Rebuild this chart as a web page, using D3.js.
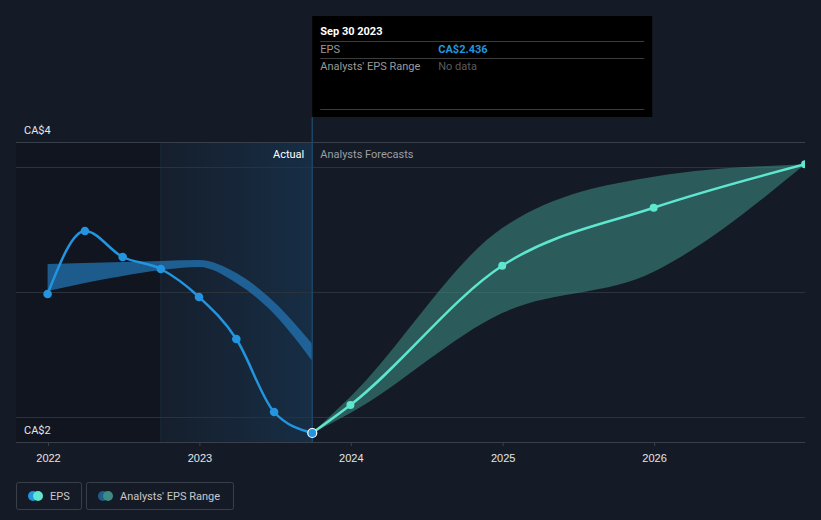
<!DOCTYPE html>
<html>
<head>
<meta charset="utf-8">
<script src="https://cdn.jsdelivr.net/npm/d3@7"></script>
<style>
  body { margin: 0; background: #151b26; }
  svg { display: block; font-family: Roboto, "Noto Sans", sans-serif; }
</style>
</head>
<body>
<div class="chart"></div>
<script>
var svgWidth = 821;
var svgHeight = 520;

// actual EPS, quarterly
var epsDates = ["2021-12-31", "2022-03-31", "2022-06-30", "2022-09-30", "2022-12-31", "2023-03-31", "2023-06-30", "2023-09-30"];
var epsValues = [2.992, 3.244, 3.14, 3.092, 2.98, 2.812, 2.52, 2.436];

// past analysts range
var pastHigh = [3.112, 3.116, 3.12, 3.124, 3.128, 3.076, 2.96, 2.792];
var pastLow = [3.004, 3.036, 3.064, 3.088, 3.10, 3.036, 2.912, 2.724];

// forecasts
var fcDates = ["2023-09-30", "2023-12-31", "2024-12-31", "2025-12-31", "2026-12-31"];
var fcValues = [2.436, 2.548, 3.105, 3.337, 3.511];
var fcHigh = [2.436, 2.581, 3.256, 3.461, 3.511];
var fcLow = [2.436, 2.516, 2.916, 3.081, 3.511];

var yearTicks = [2022, 2023, 2024, 2025, 2026];
var yLabels = ["CA$4", "CA$2"];

var parse = d3.timeParse("%Y-%m-%d");

var plotLeft = 16, plotRight = 805, plotTop = 142, plotBottom = 442;

var x = d3.scaleTime()
  .domain([new Date(2022, 0, 1), new Date(2027, 0, 1)])
  .range([48, 805.5]);

var y = d3.scaleLinear()
  .domain([2.5, 3.5])
  .range([417, 167]);

var svg = d3.select(".chart")
  .append("svg")
  .attr("width", svgWidth)
  .attr("height", svgHeight);

var defs = svg.append("defs");
var grad = defs.append("linearGradient").attr("id", "pastGrad")
  .attr("x1", "0%").attr("x2", "100%").attr("y1", "0%").attr("y2", "0%");
grad.append("stop").attr("offset", "0%").attr("stop-color", "#2196f3").attr("stop-opacity", 0.03);
grad.append("stop").attr("offset", "100%").attr("stop-color", "#2196f3").attr("stop-opacity", 0.15);

defs.append("clipPath").attr("id", "plotClip")
  .append("rect").attr("x", plotLeft).attr("y", 0).attr("width", plotRight - plotLeft).attr("height", plotBottom);

var lastActual = parse(epsDates[epsDates.length - 1]);
var yearAgo = parse("2022-09-30");

// darker past region
svg.append("rect")
  .attr("x", plotLeft).attr("y", plotTop)
  .attr("width", x(yearAgo) - plotLeft).attr("height", plotBottom - plotTop)
  .attr("fill", "#0f131a").attr("opacity", 0.6);

// last year highlighted region
svg.append("rect")
  .attr("x", x(yearAgo)).attr("y", plotTop)
  .attr("width", x(lastActual) - x(yearAgo)).attr("height", plotBottom - plotTop)
  .attr("fill", "url(#pastGrad)");

svg.append("line")
  .attr("x1", x(yearAgo)).attr("x2", x(yearAgo))
  .attr("y1", plotTop).attr("y2", plotBottom)
  .attr("stroke", "#1a2a3c").attr("stroke-width", 1);

// gridlines
svg.append("g").selectAll("line")
  .data([2.5, 3.0, 3.5])
  .enter()
  .append("line")
  .attr("x1", plotLeft).attr("x2", plotRight)
  .attr("y1", function(d) { return y(d) + 0.5; })
  .attr("y2", function(d) { return y(d) + 0.5; })
  .attr("stroke", "#2c323c").attr("stroke-width", 1);

svg.append("line")
  .attr("x1", plotLeft).attr("x2", plotRight)
  .attr("y1", plotTop + 0.5).attr("y2", plotTop + 0.5)
  .attr("stroke", "#3a404a").attr("stroke-width", 1);

// x axis
var xAxis = d3.axisBottom(x)
  .tickValues(yearTicks.map(function(d) { return new Date(d, 0, 1); }))
  .tickFormat(d3.timeFormat("%Y"))
  .tickSize(4)
  .tickSizeOuter(0);

var gx = svg.append("g")
  .attr("transform", "translate(0," + plotBottom + ")")
  .call(xAxis);
gx.select(".domain").remove();
gx.selectAll("line").attr("stroke", "#3a404a");
gx.selectAll("text").attr("fill", "#e6e6e6").attr("font-size", 11).attr("dy", "1.2em");
svg.append("line")
  .attr("x1", plotLeft).attr("x2", plotRight)
  .attr("y1", plotBottom + 0.5).attr("y2", plotBottom + 0.5)
  .attr("stroke", "#3a404a");

// y labels
svg.append("g").selectAll("text")
  .data(yLabels)
  .enter()
  .append("text")
  .text(function(d) { return d; })
  .attr("x", 24)
  .attr("y", function(d, i) { return i == 0 ? plotTop - 8 : plotBottom - 8; })
  .attr("font-size", 11)
  .attr("fill", "#e6e6e6");

var plot = svg.append("g").attr("clip-path", "url(#plotClip)");

// past range band
var pastData = epsDates.map(function(d, i) {
  return { date: parse(d), hi: pastHigh[i], lo: pastLow[i] };
});
plot.append("path")
  .datum(pastData)
  .attr("d", d3.area()
    .x(function(d) { return x(d.date); })
    .y0(function(d) { return y(d.lo); })
    .y1(function(d) { return y(d.hi); })
    .curve(d3.curveMonotoneX))
  .attr("fill", "#2377b8").attr("opacity", 0.72);

// forecast band
var fcData = fcDates.map(function(d, i) {
  return { date: parse(d), v: fcValues[i], hi: fcHigh[i], lo: fcLow[i] };
});
plot.append("path")
  .datum(fcData)
  .attr("d", d3.area()
    .x(function(d) { return x(d.date); })
    .y0(function(d) { return y(d.lo); })
    .y1(function(d) { return y(d.hi); })
    .curve(d3.curveMonotoneX))
  .attr("fill", "#3e8f85").attr("opacity", 0.55);

// EPS line
var epsData = epsDates.map(function(d, i) {
  return { date: parse(d), v: epsValues[i] };
});
var line = d3.line()
  .x(function(d) { return x(d.date); })
  .y(function(d) { return y(d.v); })
  .curve(d3.curveMonotoneX);

plot.append("path")
  .datum(epsData)
  .attr("d", line)
  .attr("fill", "none").attr("stroke", "#2394df").attr("stroke-width", 2.5);

plot.append("path")
  .datum(fcData)
  .attr("d", line)
  .attr("fill", "none").attr("stroke", "#5ee6cf").attr("stroke-width", 2.5);

plot.append("g").selectAll("circle")
  .data(fcData.slice(1))
  .enter()
  .append("circle")
  .attr("cx", function(d) { return x(d.date); })
  .attr("cy", function(d) { return y(d.v); })
  .attr("r", 4)
  .attr("fill", "#5ee6cf");

plot.append("g").selectAll("circle")
  .data(epsData.slice(0, -1))
  .enter()
  .append("circle")
  .attr("cx", function(d) { return x(d.date); })
  .attr("cy", function(d) { return y(d.v); })
  .attr("r", 4.3)
  .attr("fill", "#2394df");

// hover line
svg.append("line")
  .attr("x1", x(lastActual)).attr("x2", x(lastActual))
  .attr("y1", 117).attr("y2", plotBottom)
  .attr("stroke", "#1b4466").attr("stroke-width", 1.5);

var lastPt = epsData[epsData.length - 1];
svg.append("circle")
  .attr("cx", x(lastPt.date)).attr("cy", y(lastPt.v))
  .attr("r", 4.5)
  .attr("fill", "#2394df").attr("stroke", "#ffffff").attr("stroke-width", 1.2);

// section labels
svg.append("text")
  .text("Actual")
  .attr("x", x(lastActual) - 8).attr("y", 158)
  .attr("text-anchor", "end")
  .attr("font-size", 11).attr("fill", "#ffffff");
svg.append("text")
  .text("Analysts Forecasts")
  .attr("x", x(lastActual) + 8).attr("y", 158)
  .attr("font-size", 11).attr("fill", "#9a9ea5");

// tooltip
var tip = svg.append("g").attr("transform", "translate(" + x(lastActual) + ",16)");
tip.append("rect").attr("width", 340).attr("height", 101).attr("fill", "#000000");
tip.append("text").text("Sep 30 2023").attr("x", 8).attr("y", 19)
  .attr("font-size", 11).attr("font-weight", "bold").attr("fill", "#ffffff");
[25, 42, 93].forEach(function(yy) {
  tip.append("line").attr("x1", 8).attr("x2", 332).attr("y1", yy + 0.5).attr("y2", yy + 0.5)
    .attr("stroke", "#3c3c3c");
});
tip.append("text").text("EPS").attr("x", 8).attr("y", 37)
  .attr("font-size", 11).attr("fill", "#9a9a9a");
tip.append("text").text("CA$" + lastPt.v.toFixed(3)).attr("x", 126).attr("y", 37)
  .attr("font-size", 11).attr("font-weight", "bold").attr("fill", "#2394df");
tip.append("text").text("Analysts' EPS Range").attr("x", 8).attr("y", 54)
  .attr("font-size", 11).attr("fill", "#9a9a9a");
tip.append("text").text("No data").attr("x", 126).attr("y", 54)
  .attr("font-size", 11).attr("fill", "#5c5c5c");

// legend
var legend = svg.append("g").attr("transform", "translate(16,482)");
var items = [
  { label: "EPS", w: 65, c1: "#2394df", c2: "#5ee6cf" },
  { label: "Analysts' EPS Range", w: 147, c1: "#1f5d8c", c2: "#3e8a84" }
];
var lx = 0;
items.forEach(function(it) {
  var g = legend.append("g").attr("transform", "translate(" + lx + ",0)");
  g.append("rect").attr("x", 0.5).attr("y", 0.5).attr("width", it.w).attr("height", 27)
    .attr("rx", 2).attr("fill", "none").attr("stroke", "#3a404a");
  g.append("circle").attr("cx", 17).attr("cy", 14).attr("r", 5).attr("fill", it.c1);
  g.append("circle").attr("cx", 22).attr("cy", 14).attr("r", 5).attr("fill", it.c2);
  g.append("text").text(it.label).attr("x", 34).attr("y", 18)
    .attr("font-size", 11).attr("fill", "#c8c8c8");
  lx += it.w + 5;
});
</script>
</body>
</html>
